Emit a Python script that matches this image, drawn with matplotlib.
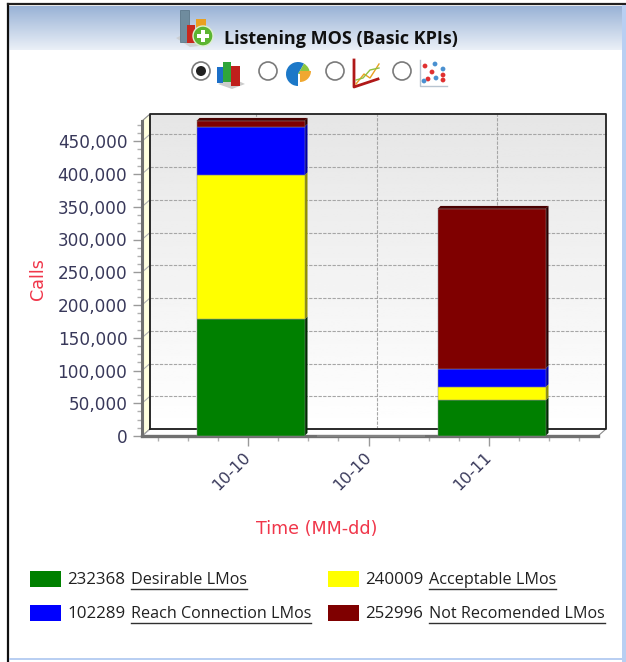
import numpy as np
import matplotlib
matplotlib.use("Agg")
import matplotlib.pyplot as plt
from matplotlib.patches import Rectangle, Polygon, Circle, Wedge
from matplotlib.transforms import ScaledTranslation
from matplotlib.ticker import FuncFormatter, MultipleLocator, FixedLocator

# ---- chart data ----
categories = ["10-10", "10-10", "10-11"]
positions = [0, 1, 2]
desirable = [178000, 0, 54368]
acceptable = [220000, 0, 20009]
reach = [74000, 0, 28289]
not_recommended = [9000, 0, 243996]
series_names = ["Desirable LMos", "Acceptable LMos", "Reach Connection LMos", "Not Recomended LMos"]
series_values = [desirable, acceptable, reach, not_recommended]
series_colors = ["#008000", "#FFFF00", "#0000FF", "#7F0000"]
side_colors = ["#002A00", "#8F8F00", "#00009F", "#2A0000"]

W, H = 626, 662
fig = plt.figure(figsize=(W / 100, H / 100), dpi=100, facecolor="white")


def px_axes(x0, y0, x1, y1, **kw):
    """Axes placed by pixel edges, measured from the top-left corner."""
    return fig.add_axes([x0 / W, 1 - y1 / H, (x1 - x0) / W, (y1 - y0) / H], **kw)


# Page layer in pixel coordinates: panel, header, icons
page = px_axes(0, 0, W, H, zorder=0)
page.axis("off")

grad = np.linspace(0, 1, 64)[:, None]
top_c, bot_c = np.array([0.60, 0.70, 0.84]), np.array([0.92, 0.94, 0.97])
header = top_c + (bot_c - top_c) * grad[..., None]
page.imshow(header, extent=(9, 622, 50, 6), aspect="auto", zorder=1)
page.set_xlim(0, W)
page.set_ylim(H, 0)
page.plot([8, 8], [4, 662], color="#101010", lw=1.6, zorder=3)
page.plot([8, 626], [4, 4], color="#202020", lw=1.6, zorder=3)
page.add_patch(Rectangle((622, 5), 4, 657, fc="#B9CFF2", ec="none", zorder=3))
page.add_patch(Rectangle((9, 657.5), 617, 2, fc="#B9CFF2", ec="none", zorder=3))

page.text(224, 38.5, "Listening MOS (Basic KPIs)", fontsize=13, fontweight="bold",
          family="Open Sans", color="#101010", va="center", ha="left", zorder=4)

# Header chart icon
page.add_patch(Polygon([(176, 38), (192, 30), (208, 45), (190, 47)], fc="#C8C8C8", ec="none", alpha=.7, zorder=4))
page.add_patch(Rectangle((180, 10), 9, 32, fc="#6F8C9E", ec="#54707F", lw=.5, zorder=4))
page.add_patch(Rectangle((187, 25), 8, 18, fc="#C8281E", ec="none", zorder=5))
page.add_patch(Rectangle((196, 19), 10, 16, fc="#E9A020", ec="none", zorder=5))
page.add_patch(Circle((203, 36), 10, fc="#5CB531", ec="#DDEFD0", lw=1, zorder=6))
page.add_patch(Rectangle((201.3, 30), 3.4, 12, fc="white", ec="none", zorder=7))
page.add_patch(Rectangle((197, 34.3), 12, 3.4, fc="white", ec="none", zorder=7))

# Chart type selector
for cx, selected in [(201, True), (268, False), (335, False), (402, False)]:
    page.add_patch(Circle((cx, 71), 9, fc="white", ec="#7A7A7A", lw=1.2, zorder=4))
    if selected:
        page.add_patch(Circle((cx, 71), 5, fc="#202020", ec="none", zorder=5))

# Bar selector icon
page.add_patch(Polygon([(218, 84), (232, 89), (245, 84), (232, 78)], fc="#CCCCCC", ec="none", zorder=4))
page.add_patch(Rectangle((217, 67), 6, 16, fc="#1C6FC8", ec="none", zorder=5))
page.add_patch(Rectangle((223, 62), 8, 20, fc="#2FA63A", ec="none", zorder=5))
page.add_patch(Rectangle((231, 66), 9, 20, fc="#C0201C", ec="none", zorder=5))

# Pie selector icon
page.add_patch(Wedge((298, 74), 12, 90, 300, fc="#1C78C8", ec="none", zorder=4))
page.add_patch(Wedge((298, 74), 12, 300, 360, fc="#8CC63F", ec="none", zorder=5))
page.add_patch(Wedge((300, 71), 11, 0, 90, fc="#F0A830", ec="none", zorder=5))

# Line selector icon
page.plot([354, 354, 378], [60, 87, 79], color="#B01818", lw=2, zorder=4)
page.plot([356, 364, 370, 379], [84, 74, 78, 64], color="#E8A020", lw=1, zorder=5)
page.plot([356, 363, 370, 379], [80, 78, 70, 68], color="#90C040", lw=1, zorder=5)

# Scatter selector icon
page.plot([420, 420, 447], [60, 86, 86], color="#B8C4D0", lw=1, zorder=4)
for px, py, c in [(425, 66, "#E03030"), (435, 64, "#4A90D0"), (443, 69, "#4A90D0"),
                  (432, 72, "#E03030"), (443, 75, "#E03030"), (428, 79, "#E03030"),
                  (424, 81, "#4A90D0"), (436, 78, "#4A90D0"), (443, 80, "#E03030")]:
    page.add_patch(Circle((px, py), 2.4, fc=c, ec="none", zorder=5))

# Pseudo-3D plot: front plane, with the back wall shifted by the depth offset
FX0, FX1, FY0, FY1 = 142, 598, 121, 436
DX, DY = 8, 7
wall = px_axes(FX0 + DX, FY0 - DY, FX1 + DX, FY1 - DY, zorder=1)
wall.imshow(np.linspace(0.90, 1.0, 128)[:, None], cmap="gray", vmin=0, vmax=1,
            aspect="auto", extent=(0, 1, 0, 1))
wall.set_xticks([])
wall.set_yticks([])
for s in wall.spines.values():
    s.set_visible(False)

ax = px_axes(FX0, FY0, FX1, FY1, zorder=2)
ax.patch.set_alpha(0)
spacing = 120.5
x_low = (FX0 - 250.5) / spacing
x_high = (FX1 - 250.5) / spacing
y_top = (FY1 - FY0) / 32.75 * 50000
ax.set_xlim(x_low, x_high)
ax.set_ylim(0, y_top)
for s in ax.spines.values():
    s.set_visible(False)

# The category ticks sit a little left of the bar centres
tick_shift = 2.5 / spacing
x_ticks = [p - tick_shift for p in positions]

back = ax.transData + ScaledTranslation(DX / 100, DY / 100, fig.dpi_scale_trans)
y_ticks = np.arange(0, 450001, 50000)
grid_col = "#A6A6A6"
for y in y_ticks[1:]:
    ax.plot([x_low, x_high], [y, y], transform=back, color=grid_col, lw=.8,
            ls=(0, (3, 1.2)), clip_on=False, zorder=1)
for x in x_ticks:
    ax.plot([x, x], [0, y_top], transform=back, color=grid_col, lw=.8,
            ls=(0, (3, 1.2)), clip_on=False, zorder=1)

# Left wall and floor
dx_d, dy_d = DX / spacing, DY / 32.75 * 50000
ax.add_patch(Polygon([(x_low, 0), (x_low + dx_d, dy_d), (x_low + dx_d, y_top + dy_d), (x_low, y_top)],
                     fc="#FFFFE0", ec="#8A8A8A", lw=.8, clip_on=False, zorder=1))
ax.add_patch(Polygon([(x_low, 0), (x_low + dx_d, dy_d), (x_high + dx_d, dy_d), (x_high, 0)],
                     fc="white", ec="#8A8A8A", lw=.8, clip_on=False, zorder=1))
for y in y_ticks:
    ax.plot([x_low, x_low + dx_d], [y, y + dy_d], color="#B0B0B0", lw=.8, clip_on=False, zorder=1.5)

# Back wall frame
ax.plot([x_low, x_low, x_high, x_high, x_low], [0, y_top, y_top, 0, 0], transform=back,
        color="#202020", lw=1.3, clip_on=False, zorder=1.6)
ax.plot([x_low, x_low], [0, y_top], color="#707070", lw=2.2, clip_on=False, zorder=2)
ax.plot([x_low, x_high], [0, 0], color="#707070", lw=2.4, clip_on=False, zorder=2)

# Stacked bars with a thin side and top face
bar_w = 108 / spacing
dx_b, dy_b = 3 / spacing, 3 / 32.75 * 50000
bottom = np.zeros(len(positions))
for vals, col, side in zip(series_values, series_colors, side_colors):
    vals = np.asarray(vals, dtype=float)
    ax.bar(positions, vals, bar_w, bottom=bottom, color=col, edgecolor="#8C8C8C", linewidth=.35,
           zorder=4, clip_on=False)
    for x, v, b in zip(positions, vals, bottom):
        if v > 0:
            r = x + bar_w / 2
            ax.add_patch(Polygon([(r, b), (r + dx_b, b + dy_b), (r + dx_b, b + v + dy_b), (r, b + v)],
                                 fc=side, ec="none", clip_on=False, zorder=3.5))
    bottom = bottom + vals
for x, t in zip(positions, bottom):
    if t > 0:
        ax.add_patch(Polygon([(x - bar_w / 2, t), (x - bar_w / 2 + dx_b, t + dy_b),
                              (x + bar_w / 2 + dx_b, t + dy_b), (x + bar_w / 2, t)],
                             fc="#4A0000", ec="none", clip_on=False, zorder=3.5))

# Axes ticks and labels
tick_col = "#38385A"
ax.yaxis.set_major_locator(FixedLocator(y_ticks))
ax.yaxis.set_minor_locator(MultipleLocator(12500))
ax.yaxis.set_major_formatter(FuncFormatter(lambda v, _: f"{int(v):,}"))
ax.tick_params(axis="y", which="major", length=6.5, width=1, color="#9A9A9A", labelsize=12.2,
               labelcolor=tick_col, pad=4)
ax.tick_params(axis="y", which="minor", length=3.6, width=1, color="#B0B0B0")
ax.xaxis.set_major_locator(FixedLocator(x_ticks))
ax.xaxis.set_minor_locator(FixedLocator(np.arange(-3, 12) * 0.25 - tick_shift))
ax.set_xticklabels(categories)
ax.tick_params(axis="x", which="major", length=7, width=1, color="#9A9A9A", pad=3)
ax.tick_params(axis="x", which="minor", length=3.6, width=1, color="#B0B0B0")
label_nudge = ScaledTranslation(-5 / 100, 0, fig.dpi_scale_trans)
for lab in ax.get_xticklabels():
    lab.set(rotation=45, ha="right", va="top", rotation_mode="anchor", fontsize=11.6, color=tick_col)
    lab.set_transform(lab.get_transform() + label_nudge)

page.text(38, 279, "Calls", rotation=90, fontsize=12.6, color="#F0364A", ha="center", va="center", zorder=4)
page.text(317, 529, "Time (MM-dd)", fontsize=12.6, color="#F0364A", ha="center", va="center", zorder=4)

# Legend with the series totals and underlined names
legend_slots = [(30, 579), (328, 579), (30, 613), (328, 613)]
renderer = fig.canvas.get_renderer()
inv = page.transData.inverted()
for (lx, ly), name, vals, col in zip(legend_slots, series_names, series_values, series_colors):
    page.add_patch(Rectangle((lx, ly - 8), 31, 16, fc=col, ec="none", zorder=4))
    page.text(lx + 37, ly + 1, str(sum(vals)), fontsize=12.2, family="Open Sans", color="#202020",
              ha="left", va="center", zorder=4)
    t = page.text(lx + 101, ly + 1, name, fontsize=11.6, family="Open Sans", color="#202020",
                  ha="left", va="center", zorder=4)
    ext = t.get_window_extent(renderer)
    x0 = inv.transform((ext.x0, ext.y0))[0]
    x1 = inv.transform((ext.x1, ext.y0))[0]
    page.plot([x0, x1], [ly + 10, ly + 10], color="#303030", lw=1, zorder=4)

fig.savefig("out.png", dpi=100, facecolor="white")
